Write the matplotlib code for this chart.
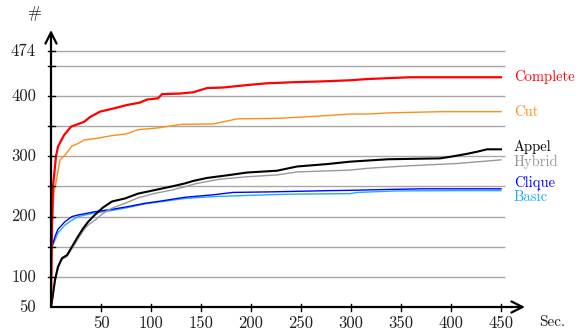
import matplotlib
matplotlib.use("Agg")
import matplotlib.pyplot as plt

# ---- data ----
complete_t = [0, 1, 2, 5, 7, 13, 20, 33, 39, 49, 62, 76, 89, 96, 107, 111, 129, 142, 156, 172, 196, 216, 246, 269, 299, 316, 359, 450]
complete_v = [50, 180, 250, 300, 316, 335, 349, 357, 365, 374, 379, 385, 389, 394, 396, 403, 404, 406, 413, 414, 418, 421, 423, 424, 426, 428, 431, 431]

cut_t = [0, 1, 3, 6, 9, 14, 21, 27, 33, 47, 60, 75, 87, 107, 131, 162, 172, 186, 229, 262, 299, 316, 339, 392, 450]
cut_v = [50, 180, 240, 266, 294, 302, 317, 321, 327, 330, 334, 337, 344, 347, 353, 353.5, 357, 362, 363, 366, 370, 370, 372, 374, 374]

appel_t = [0, 1, 4, 7, 11, 16, 21, 27, 32, 37, 44, 52, 61, 74, 87, 104, 121, 134, 142, 156, 179, 196, 226, 246, 276, 299, 337, 389, 399, 416, 426, 436, 450]
appel_v = [50, 60, 95, 117, 131, 136, 150, 167, 180, 191, 203, 215, 225, 230, 238, 244, 250, 255, 259, 264, 269, 273, 276, 283, 287, 291, 295, 296.5, 299, 304, 307.5, 311.5, 311.5]

hybrid_t = [0, 1, 4, 7, 11, 16, 21, 27, 32, 37, 44, 52, 61, 74, 87, 104, 121, 134, 146, 169, 196, 226, 246, 299, 316, 356, 406, 450]
hybrid_v = [50, 58, 92, 114, 129, 134, 147, 163, 176, 186, 194, 205, 214, 222, 231, 238.5, 244, 249.5, 255, 262, 266, 269, 274, 277, 280, 284, 288, 294]

clique_t = [0, 1, 4, 7, 14, 21, 27, 44, 61, 77, 94, 111, 134, 162, 182, 222, 279, 299, 339, 372, 450]
clique_v = [145, 150, 167, 179, 191.5, 200, 202.6, 208, 212, 216.5, 222, 226, 232, 236, 240, 241, 243, 243.5, 245, 246, 246]

basic_t = [0, 1, 4, 7, 14, 21, 27, 44, 61, 77, 94, 134, 162, 196, 236, 299, 306, 346, 409, 450]
basic_v = [145, 150, 161, 173, 186, 194, 200, 206, 210, 215, 221, 230, 233, 235, 237, 238, 240, 242.5, 243, 243]

series_names = ["Basic", "Clique", "Hybrid", "Appel", "Cut", "Complete"]
x_ticks = [50, 100, 150, 200, 250, 300, 350, 400, 450]
y_ticks = [100, 150, 200, 250, 300, 350, 400, 450, 474]
y_tick_labels = {50: "50", 100: "100", 200: "200", 300: "300", 400: "400", 474: "474"}

FONT = "cmr10"
FS = 12
LFS = 10.5

fig = plt.figure(figsize=(5.87, 3.33), dpi=100)
W, H = 587, 333
x0, y0 = 51, 307          # pixel of origin
ax = fig.add_axes([x0 / W, (H - y0) / H, 474 / W, 277 / H])
ax.set_xlim(0, 474)
ax.set_ylim(50, 50 + 277 / 0.603)
for s in ax.spines.values():
    s.set_visible(False)
ax.set_xticks([])
ax.set_yticks([])

# grid lines
for yv in y_ticks:
    ax.plot([0, 454], [yv, yv], color="#a8a8a8", lw=1.0, zorder=1, solid_capstyle="butt")

series = {
    "Basic": (basic_t, basic_v, "#22aaff", 1.0),
    "Clique": (clique_t, clique_v, "#0000ff", 1.0),
    "Hybrid": (hybrid_t, hybrid_v, "#999999", 1.0),
    "Appel": (appel_t, appel_v, "#000000", 1.5),
    "Cut": (cut_t, cut_v, "#ff8c1a", 1.0),
    "Complete": (complete_t, complete_v, "#ff0000", 1.6),
}
for name in series_names:
    t, v, c, lw = series[name]
    ax.plot(t, v, color=c, lw=lw, zorder=3, solid_joinstyle="miter")

# axes with arrows
ymin, ymax = ax.get_ylim()
ax.annotate("", xy=(474, 50), xytext=(0, 50), xycoords="data",
            arrowprops=dict(arrowstyle="->", lw=1.6, color="black", mutation_scale=20,
                            shrinkA=0, shrinkB=0), annotation_clip=False, zorder=5)
ax.annotate("", xy=(0, ymax), xytext=(0, 50), xycoords="data",
            arrowprops=dict(arrowstyle="->", lw=1.6, color="black", mutation_scale=20,
                            shrinkA=0, shrinkB=0), annotation_clip=False, zorder=5)

# tick marks (crossing)
tk = 3.5 / 0.603  # y units for ~3.5px
for xv in x_ticks:
    ax.plot([xv, xv], [50 - tk, 50 + tk], color="black", lw=1.0, clip_on=False, zorder=5)
    ax.text(xv, 50 - 16 / 0.603, str(xv), ha="center", va="center",
            fontsize=FS, family=FONT, color="#222222")
for yv in y_ticks:
    ax.plot([-3.5, 3.5], [yv, yv], color="black", lw=1.0, clip_on=False, zorder=5)
for yv, lab in y_tick_labels.items():
    ax.text(-15, yv, lab, ha="right", va="center", fontsize=FS, family=FONT, color="#222222")

ax.text(-17, 50 + 294 / 0.603, "#", ha="center", va="center", fontsize=FS, family=FONT, color="#222222")
ax.text(501, 50 - 15 / 0.603, "Sec.", ha="center", va="center", fontsize=FS - 1, family=FONT, color="#222222")

# right-side labels
label_pos = {"Complete": 425.3, "Cut": 367.2, "Appel": 309.5, "Hybrid": 283.5,
             "Clique": 249.5, "Basic": 226.0}
for name in series_names:
    c = series[name][2]
    ax.text(463, label_pos[name], name, ha="left", va="baseline", fontsize=LFS,
            family=FONT, color=c)

fig.savefig("out.png", dpi=100)
